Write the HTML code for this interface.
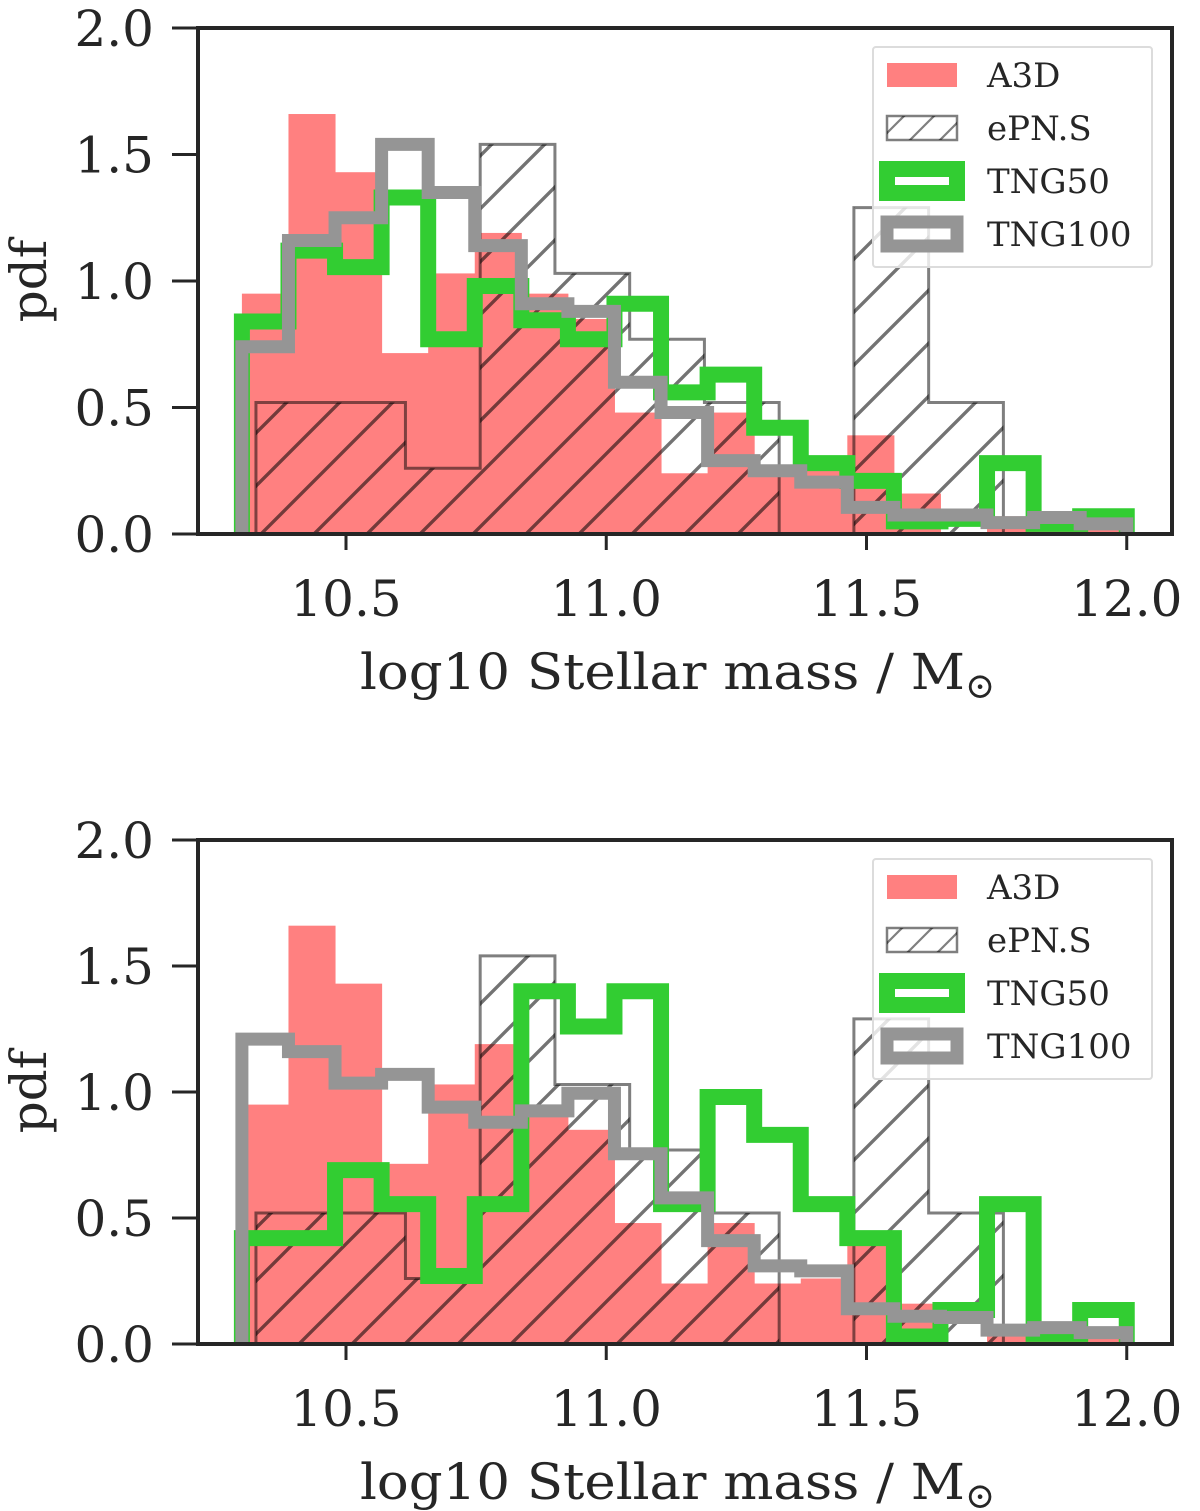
<!DOCTYPE html>
<html><head><meta charset="utf-8"><style>
html,body{margin:0;padding:0;background:#fff}
svg{display:block}
text{font-family:"DejaVu Serif","Liberation Serif",serif;fill:#262626}
</style></head><body>
<svg id="chart" width="1200" height="1511" viewBox="0 0 1200 1511" xmlns="http://www.w3.org/2000/svg">
<defs>
<pattern id="hatch" patternUnits="userSpaceOnUse" width="53" height="53">
<path d="M-10,10 L10,-10 M0,53 L53,0 M43,63 L63,43" stroke="#000" stroke-opacity="0.55" stroke-width="3.4"/>
</pattern>
<pattern id="hatchL" patternUnits="userSpaceOnUse" width="30" height="30">
<path d="M0,30 L30,0 M-5,5 L5,-5 M25,35 L35,25" stroke="#000" stroke-opacity="0.5" stroke-width="2.2"/>
</pattern>
</defs>
</svg>
<script>
// shared bins (10.30 -> 12.00, 19 bins)
const simStart = 10.30, simEnd = 12.00, simBins = 19;
const epnStart = 10.327, epnEnd = 11.763, epnBins = 10;
const a3dValues = [0.95,1.66,1.43,0.715,1.03,1.19,0.95,0.85,0.48,0.24,0.48,0.24,0.26,0.39,0.16,0.0,0.07,0.03,0.03];
const epnValues = [0.52,0.52,0.26,1.54,1.03,0.77,0.52,0.0,1.29,0.52];
const tng50Top = [0.84,1.12,1.055,1.33,0.77,0.98,0.845,0.77,0.91,0.56,0.63,0.42,0.28,0.21,0.05,0.06,0.28,0.04,0.07];
const tng100Top = [0.74,1.16,1.25,1.54,1.35,1.14,0.91,0.88,0.60,0.48,0.29,0.25,0.205,0.105,0.075,0.075,0.045,0.065,0.04];
const tng50Bottom = [0.42,0.42,0.69,0.555,0.27,0.555,1.40,1.26,1.40,0.555,0.98,0.83,0.555,0.42,0.03,0.135,0.555,0.04,0.135];
const tng100Bottom = [1.21,1.16,1.035,1.07,0.94,0.88,0.925,0.995,0.755,0.58,0.41,0.31,0.29,0.14,0.11,0.105,0.055,0.065,0.045];
const xTicks = [10.5, 11.0, 11.5, 12.0];
const xTickLabels = ["10.5","11.0","11.5","12.0"];
const yTicks = [0, 0.5, 1.0, 1.5, 2.0];
const yTickLabels = ["0.0","0.5","1.0","1.5","2.0"];
const legendLabels = ["A3D","ePN.S","TNG50","TNG100"];

const NS = "http://www.w3.org/2000/svg";
const svg = document.getElementById("chart");
function mk(tag, attrs, parent){const e=document.createElementNS(NS,tag);for(const k in attrs)e.setAttribute(k,attrs[k]);(parent||svg).appendChild(e);return e;}
const xScale = v => 346 + (v - 10.5) * 520.5;
const frameL = 198, frameR = 1172;

function edges(s,e,n){const a=[];for(let i=0;i<=n;i++)a.push(s+(e-s)*i/n);return a;}
const simEdges = edges(simStart, simEnd, simBins);
const epnEdges = edges(epnStart, epnEnd, epnBins);

function stepPath(ed, vals, y){
  let d = "M"+xScale(ed[0])+","+y(0);
  vals.forEach((v,i)=>{d+=" L"+xScale(ed[i])+","+y(v)+" L"+xScale(ed[i+1])+","+y(v);});
  d += " L"+xScale(ed[ed.length-1])+","+y(0);
  return d;
}

function panel(y0, pxPerUnit, t50, t100, idx){
  const y = v => y0 - v * pxPerUnit;
  const g = mk("g",{});
  
  
  a3dValues.forEach((v,i)=>{
    if(v<=0) return;
    const r = mk("rect",{x:xScale(simEdges[i]),y:y(v),width:xScale(simEdges[i+1])-xScale(simEdges[i])+0.5,height:y(0)-y(v),fill:"#ff8080"},g);
    
    
  });
  const ep = mk("path",{d:stepPath(epnEdges, epnValues, y),fill:"url(#hatch)",stroke:"#000","stroke-opacity":"0.5","stroke-width":"3"},g);
  
  
  const p50 = mk("path",{d:stepPath(simEdges, t50, y),fill:"none",stroke:"#32cd32","stroke-width":"16","stroke-linejoin":"miter"},g);
  
  
  const p100 = mk("path",{d:stepPath(simEdges, t100, y),fill:"none",stroke:"#959595","stroke-width":"13","stroke-linejoin":"miter"},g);
  
  
  mk("rect",{x:frameL-2,y:y0+2,width:frameR-frameL+4,height:30,fill:"#fff"},g);
  const top = y(2.0);
  const fr = mk("rect",{x:frameL,y:top,width:frameR-frameL,height:y0-top,fill:"none",stroke:"#262626","stroke-width":"4"},g);
  
  
  yTicks.forEach((v,i)=>{
    mk("line",{x1:frameL-26,x2:frameL,y1:y(v),y2:y(v),stroke:"#262626","stroke-width":"3"},g);
    const t = mk("text",{x:154,y:y(v)+18,"font-size":"50","text-anchor":"end"},g);
    t.textContent = yTickLabels[i];
    
    
  });
  xTicks.forEach((v,i)=>{
    mk("line",{x1:xScale(v),x2:xScale(v),y1:y0,y2:y0+16,stroke:"#262626","stroke-width":"3"},g);
    const t = mk("text",{x:xScale(v),y:y0+82,"font-size":"50","text-anchor":"middle"},g);
    t.textContent = xTickLabels[i];
    
    
  });
  const xl = mk("text",{x:360,y:y0+155,"font-size":"50"},g);
  
  
  const ts1 = mk("tspan",{textLength:"605",lengthAdjust:"spacingAndGlyphs"},xl);
  ts1.textContent = "log10 Stellar mass / M";
  const ts2 = mk("tspan",{dy:"9","font-size":"36"},xl);
  ts2.textContent = "\u2299";
  const yl = mk("text",{x:0,y:0,"font-size":"50","text-anchor":"middle",transform:"translate(46,"+(y(1.0))+") rotate(-90)"},g);
  yl.textContent = "pdf";
  
  
  const ly = top + 19;
  const lg = mk("g",{},g);
  
  
  mk("rect",{x:873,y:ly,width:279,height:220,fill:"#fff","fill-opacity":"0.8",stroke:"#dcdcdc","stroke-width":"2",rx:"3"},lg);
  const rowY = [ly+28, ly+81, ly+134, ly+187];
  mk("rect",{x:887,y:rowY[0]-12,width:70,height:24,fill:"#ff8080"},lg);
  mk("rect",{x:887,y:rowY[1]-12,width:70,height:24,fill:"url(#hatchL)",stroke:"#000","stroke-opacity":"0.5","stroke-width":"2.5"},lg);
  mk("rect",{x:887,y:rowY[2]-12,width:70,height:24,fill:"none",stroke:"#32cd32","stroke-width":"16"},lg);
  mk("rect",{x:887,y:rowY[3]-12,width:70,height:24,fill:"none",stroke:"#959595","stroke-width":"13"},lg);
  legendLabels.forEach((s,i)=>{
    const t = mk("text",{x:987,y:rowY[i]+12,"font-size":"34"},lg);
    t.textContent = s;
    
    
  });
}
panel(534, 253, tng50Top, tng100Top, 1);
panel(1344, 252, tng50Bottom, tng100Bottom, 2);
</script>
</body></html>
